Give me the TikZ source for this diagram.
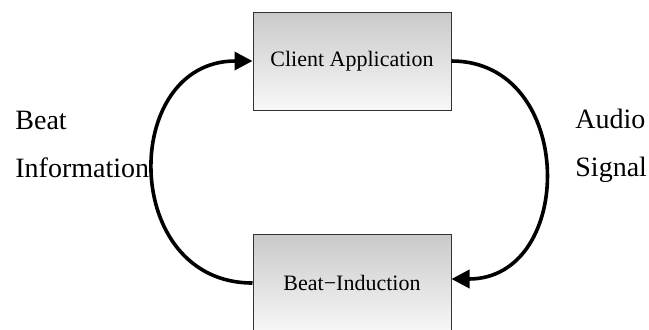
\documentclass[tikz,border=0pt]{standalone}
\usepackage{fontspec}
\setmainfont{Liberation Serif}
\usepackage{tikz}
\usetikzlibrary{positioning,arrows.meta}
\newcommand{\corTopo}{black!21}
\newcommand{\corBase}{black!3}
\newcommand{\corBorda}{black!80}
\begin{document}
\begin{tikzpicture}[x=0.5pt, y=-0.5pt,
    caixa/.style={draw=\corBorda, line width=0.5pt, top color=\corTopo, bottom color=\corBase,
      minimum width=99pt, minimum height=49pt, inner sep=0pt, font=\fontsize{11}{13}\selectfont},
    rotulo/.style={align=left, inner sep=0pt, font=\fontsize{14}{24}\selectfont},
    fluxo/.style={line width=1.8pt, -{Triangle[length=9pt, width=9pt]}}]
    \useasboundingbox (0,0) rectangle (649,329);
          % caixa de cima
        \node[caixa] (ca) at (352,61) {Client Application};
          % caixa de baixo
        \node[caixa, below=61.5pt of ca] (bi) {Beat−Induction};
          % rotulos dos lados
        \node[rotulo, anchor=base west] (bt) at (15,177) {Beat\\Information};
        \node[rotulo, anchor=base west] (as) at (575,176) {Audio\\Signal};
          % setas
        \draw[fluxo] (bi.west) to[out=180, in=180, looseness=1.53] (ca.west);
        \draw[fluxo] (ca.east) to[out=0, in=0, looseness=1.47] ([yshift=2pt]bi.east);
    \end{tikzpicture}
\end{document}
